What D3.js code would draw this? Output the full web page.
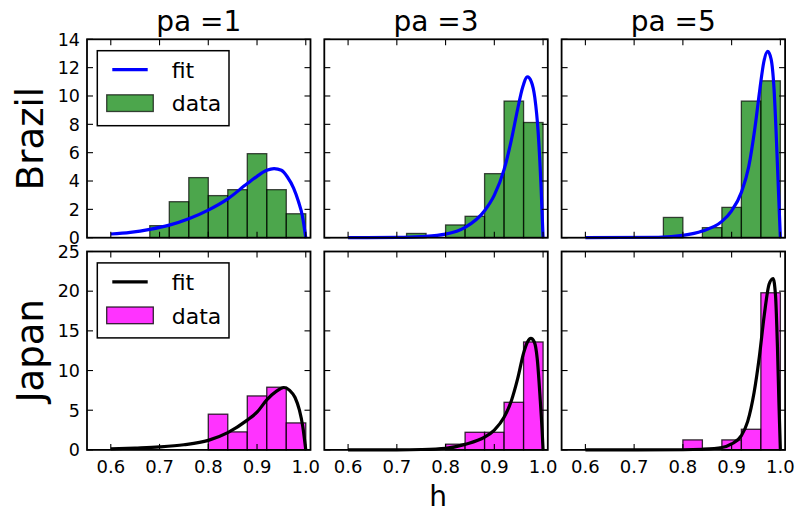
<!DOCTYPE html>
<html>
<head>
<meta charset="utf-8">
<script src="https://cdn.jsdelivr.net/npm/d3@7/dist/d3.min.js"></script>
<style>
  html, body { margin: 0; padding: 0; background: #fff; }
  svg { display: block; font-family: "DejaVu Sans", sans-serif; }
</style>
</head>
<body>
<svg id="chart" width="797" height="514"></svg>
<script>
// ---- data ----
const columnTitles = ["pa =1", "pa =3", "pa =5"];
const rowTitles = ["Brazil", "Japan"];
const xTicks = [0.6, 0.7, 0.8, 0.9, 1.0];
const yTicksBrazil = [0, 2, 4, 6, 8, 10, 12, 14];
const yTicksJapan = [0, 5, 10, 15, 20, 25];

// histogram bin edges (shared by every panel)
const binEdges = [0.68, 0.72, 0.76, 0.80, 0.84, 0.88, 0.92, 0.96, 1.00];

// normalised histogram heights, one list per pa column
const brazilPa1 = [0.85, 2.54, 4.24, 2.97, 3.39, 5.93, 3.39, 1.69];
const brazilPa3 = [0, 0.30, 0, 0.90, 1.51, 4.52, 9.64, 8.13];
const brazilPa5 = [0, 0, 1.43, 0, 0.71, 2.14, 9.64, 11.07];
const japanPa1 = [0, 0, 0, 4.50, 2.27, 6.80, 7.90, 3.40];
const japanPa3 = [0, 0, 0, 0.72, 2.22, 2.22, 6.00, 13.60];
const japanPa5 = [0, 0, 0, 1.26, 0, 1.26, 2.60, 19.80];

// fitted density curves, [h, density]
const fitBrazilPa1 = [[0.60,0.26],[0.64,0.38],[0.68,0.59],[0.72,0.89],[0.76,1.34],[0.80,1.95],[0.84,2.74],[0.88,3.82],[0.90,4.33],[0.92,4.76],[0.935,4.88],[0.95,4.76],[0.962,4.30],[0.975,3.50],[0.985,2.55],[0.993,1.55],[1.0,0]];
const fitBrazilPa3 = [[0.60,0],[0.70,0.02],[0.75,0.08],[0.80,0.25],[0.84,0.72],[0.88,1.90],[0.90,3.00],[0.92,4.80],[0.935,6.90],[0.948,9.10],[0.958,10.60],[0.968,11.35],[0.976,11.00],[0.983,9.90],[0.99,7.40],[0.996,3.50],[1.0,0]];
const fitBrazilPa5 = [[0.60,0],[0.75,0.03],[0.80,0.16],[0.84,0.47],[0.88,1.15],[0.90,1.90],[0.92,3.20],[0.935,5.00],[0.948,7.80],[0.958,10.50],[0.966,12.40],[0.974,13.15],[0.981,12.60],[0.987,10.50],[0.993,6.00],[0.997,2.50],[1.0,0]];
const fitJapanPa1 = [[0.60,0.13],[0.65,0.24],[0.70,0.38],[0.75,0.65],[0.80,1.20],[0.84,2.18],[0.88,3.75],[0.90,4.75],[0.92,6.30],[0.94,7.40],[0.955,7.86],[0.967,7.50],[0.978,6.60],[0.987,5.00],[0.994,2.90],[1.0,0]];
const fitJapanPa3 = [[0.60,0],[0.70,0.01],[0.75,0.05],[0.80,0.20],[0.84,0.70],[0.88,1.60],[0.90,2.50],[0.92,4.10],[0.935,6.20],[0.948,9.00],[0.96,12.20],[0.968,13.60],[0.975,14.05],[0.982,13.60],[0.988,11.50],[0.994,6.50],[0.998,2.50],[1.0,0]];
const fitJapanPa5 = [[0.60,0],[0.80,0.02],[0.84,0.08],[0.88,0.30],[0.90,0.75],[0.92,1.80],[0.933,3.60],[0.946,7.20],[0.957,11.80],[0.967,17.00],[0.977,20.90],[0.985,21.60],[0.99,19.50],[0.994,13.00],[0.997,6.00],[1.0,0]];

// ---- layout ----
const svg = d3.select("#chart");
const panelLeft = 87, panelW = 223.5, panelGapX = 13.8;
const panelTop = 39.3, panelH = 198.4, panelGapY = 13.8;
const xDomain = [0.5512, 1.0097];

const rowsSpec = [
  { name: rowTitles[0], yMax: 14, yTicks: yTicksBrazil,
    bars: [brazilPa1, brazilPa3, brazilPa5],
    fits: [fitBrazilPa1, fitBrazilPa3, fitBrazilPa5],
    fill: "rgb(0,128,0)", alpha: 0.7, lineColor: "#0000ff" },
  { name: rowTitles[1], yMax: 25, yTicks: yTicksJapan,
    bars: [japanPa1, japanPa3, japanPa5],
    fits: [fitJapanPa1, fitJapanPa3, fitJapanPa5],
    fill: "rgb(255,0,255)", alpha: 0.8, lineColor: "#000000" }
];

const tickLen = 6;

rowsSpec.forEach((row, r) => {
  const top = panelTop + r * (panelH + panelGapY);
  const y = d3.scaleLinear().domain([0, row.yMax]).range([top + panelH, top]);

  columnTitles.forEach((title, c) => {
    const left = panelLeft + c * (panelW + panelGapX);
    const x = d3.scaleLinear().domain(xDomain).range([left, left + panelW]);
    const g = svg.append("g");

    // histogram bars
    const bins = row.bars[c].map((v, i) => ({ x0: binEdges[i], x1: binEdges[i + 1], v }))
      .filter(d => d.v > 0);
    g.selectAll("rect.bar").data(bins).enter().append("rect")
      .attr("class", "bar")
      .attr("x", d => x(d.x0))
      .attr("width", d => x(d.x1) - x(d.x0))
      .attr("y", d => y(d.v))
      .attr("height", d => y(0) - y(d.v))
      .attr("fill", row.fill).attr("fill-opacity", row.alpha)
      .attr("stroke", "#000").attr("stroke-opacity", row.alpha)
      .attr("stroke-width", 1.3);

    // fitted curve
    const line = d3.line().x(d => x(d[0])).y(d => y(d[1])).curve(d3.curveMonotoneX);
    g.append("path").datum(row.fits[c])
      .attr("d", line)
      .attr("fill", "none")
      .attr("stroke", row.lineColor)
      .attr("stroke-width", 3.2)
      .attr("stroke-linejoin", "round");

    // inward ticks on all four sides
    const tg = g.append("g").attr("stroke", "#000").attr("stroke-width", 1.1);
    xTicks.forEach(t => {
      tg.append("line").attr("x1", x(t)).attr("x2", x(t)).attr("y1", top).attr("y2", top + tickLen);
      tg.append("line").attr("x1", x(t)).attr("x2", x(t)).attr("y1", top + panelH).attr("y2", top + panelH - tickLen);
    });
    row.yTicks.forEach(t => {
      tg.append("line").attr("x1", left).attr("x2", left + tickLen).attr("y1", y(t)).attr("y2", y(t));
      tg.append("line").attr("x1", left + panelW).attr("x2", left + panelW - tickLen).attr("y1", y(t)).attr("y2", y(t));
    });

    // frame
    g.append("rect").attr("x", left).attr("y", top).attr("width", panelW).attr("height", panelH)
      .attr("fill", "none").attr("stroke", "#000").attr("stroke-width", 1.8);

    // y tick labels on the first column
    if (c === 0) {
      g.selectAll("text.yt").data(row.yTicks).enter().append("text")
        .attr("x", left - 7).attr("y", d => y(d)).attr("dy", "0.36em")
        .attr("text-anchor", "end").attr("font-size", 17.5).text(d => d);
    }
    // x tick labels on the bottom row
    if (r === rowsSpec.length - 1) {
      g.selectAll("text.xt").data(xTicks).enter().append("text")
        .attr("x", d => x(d)).attr("y", top + panelH + 23)
        .attr("text-anchor", "middle").attr("font-size", 18).text(d => d3.format(".1f")(d));
    }
    // column titles on the top row
    if (r === 0) {
      g.append("text").attr("x", left + panelW / 2).attr("y", 31)
        .attr("text-anchor", "middle").attr("font-size", 28).text(title);
    }

    // legend in the first column
    if (c === 0) {
      const lg = g.append("g");
      lg.append("rect").attr("x", left + 10.3).attr("y", top + 11.4)
        .attr("width", 131.7).attr("height", 75)
        .attr("fill", "#fff").attr("stroke", "#000").attr("stroke-width", 1.5);
      lg.append("line").attr("x1", left + 25.3).attr("x2", left + 60.7)
        .attr("y1", top + 30.3).attr("y2", top + 30.3)
        .attr("stroke", row.lineColor).attr("stroke-width", 3.2);
      lg.append("rect").attr("x", left + 19.7).attr("y", top + 55.5)
        .attr("width", 46.6).attr("height", 16.7)
        .attr("fill", row.fill).attr("fill-opacity", row.alpha)
        .attr("stroke", "#000").attr("stroke-opacity", row.alpha).attr("stroke-width", 1.3);
      lg.append("text").attr("x", left + 84.7).attr("y", top + 38.6)
        .attr("font-size", 22).text("fit");
      lg.append("text").attr("x", left + 84.7).attr("y", top + 72)
        .attr("font-size", 22).text("data");
    }
  });

  // row label
  svg.append("text")
    .attr("transform", `translate(43,${top + panelH / 2}) rotate(-90)`)
    .attr("text-anchor", "middle").attr("font-size", 37).text(row.name);
});

// x axis label
svg.append("text").attr("x", panelLeft + (3 * panelW + 2 * panelGapX) / 2 + 2).attr("y", 506)
  .attr("text-anchor", "middle").attr("font-size", 28).text("h");
</script>
</body>
</html>
